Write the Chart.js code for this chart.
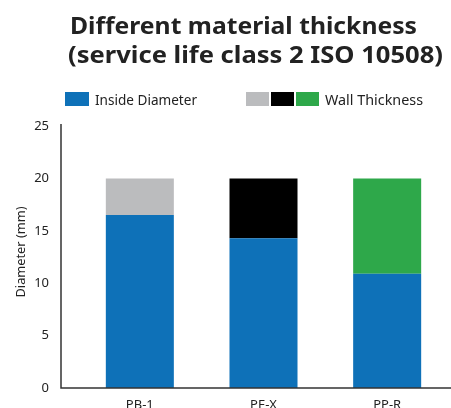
<!DOCTYPE html>
<html>
<head>
<meta charset="utf-8">
<script src="https://cdn.jsdelivr.net/npm/chart.js@4"></script>
<style>
  html, body { margin: 0; padding: 0; background: #fff; }
  #wrap { position: relative; width: 451px; height: 408px; }
</style>
</head>
<body>
<div id="wrap"><canvas id="c" width="451" height="408"></canvas></div>
<script>
const categories = ["PB-1", "PE-X", "PP-R"];
const insideDiameter = [16.5, 14.3, 10.9];
const wallThickness = [3.5, 5.7, 9.1];
const yTicks = [0, 5, 10, 15, 20, 25];
const titleLines = ["Different material thickness", "(service life class 2 ISO 10508)"];
const seriesNames = ["Inside Diameter", "Wall Thickness"];
const yAxisTitle = "Diameter (mm)";
const insideColor = "#0e71b8";
const wallColors = ["#bbbcbe", "#000000", "#2ea84a"];

const FONT = "'Noto Sans', 'DejaVu Sans', sans-serif";
const AXIS_X = 61;

function fitText(ctx, text, x, y, targetW, font) {
  ctx.font = font;
  const w = ctx.measureText(text).width;
  const s = targetW / w;
  ctx.save();
  ctx.translate(x, y);
  ctx.scale(s, 1);
  ctx.fillText(text, 0, 0);
  ctx.restore();
}

const decor = {
  id: 'decor',
  afterDraw(chart) {
    const ctx = chart.ctx;
    const ca = chart.chartArea;
    ctx.save();
    // title
    ctx.fillStyle = '#222';
    ctx.textBaseline = 'alphabetic';
    ctx.textAlign = 'left';
    fitText(ctx, titleLines[0], 70, 34, 347, "bold 23px " + FONT);
    fitText(ctx, titleLines[1], 68, 63, 375, "bold 23px " + FONT);
    // legend
    ctx.fillStyle = insideColor;
    ctx.fillRect(65, 92, 24, 14);
    wallColors.forEach((c, i) => { ctx.fillStyle = c; ctx.fillRect(246 + i * 25, 92, 23, 14); });
    ctx.fillStyle = '#222';
    fitText(ctx, seriesNames[0], 95, 104.5, 102, "14px " + FONT);
    fitText(ctx, seriesNames[1], 325, 104.5, 98, "14px " + FONT);
    // y axis title
    ctx.save();
    ctx.translate(21, 252);
    ctx.rotate(-Math.PI / 2);
    ctx.textAlign = 'left';
    ctx.textBaseline = 'middle';
    fitText(ctx, yAxisTitle, -45.5, 0, 91, "12.5px " + FONT);
    ctx.restore();
    // axis lines
    ctx.strokeStyle = '#333';
    ctx.lineWidth = 1.5;
    ctx.beginPath();
    ctx.moveTo(AXIS_X, ca.top - 2);
    ctx.lineTo(AXIS_X, ca.bottom);
    ctx.lineTo(chart.width, ca.bottom);
    ctx.stroke();
    ctx.restore();
  }
};

new Chart(document.getElementById('c'), {
  type: 'bar',
  data: {
    labels: categories,
    datasets: [
      { label: seriesNames[0], data: insideDiameter, backgroundColor: insideColor, borderWidth: 0 },
      { label: seriesNames[1], data: wallThickness, backgroundColor: wallColors, borderWidth: 0 }
    ]
  },
  options: {
    responsive: false,
    animation: false,
    devicePixelRatio: 1,
    layout: { padding: { top: 126, right: 2, left: 0, bottom: 0 } },
    plugins: { legend: { display: false }, title: { display: false }, tooltip: { enabled: false } },
    datasets: { bar: { categoryPercentage: 1, barPercentage: 0.55 } },
    scales: {
      x: {
        stacked: true,
        grid: { display: false, drawTicks: false },
        border: { display: false },
        ticks: { color: '#222', font: { family: FONT, size: 13 }, padding: 9, maxRotation: 0, minRotation: 0, autoSkip: false },
        afterFit(s) { s.height = 20; }
      },
      y: {
        stacked: true,
        min: 0, max: 25,
        afterBuildTicks(s) { s.ticks = yTicks.map(v => ({ value: v })); },
        grid: { display: false, drawTicks: false },
        border: { display: false },
        ticks: { color: '#222', font: { family: FONT, size: 13 }, padding: 29 },
        title: { display: false },
        afterFit(s) { s.width = 78; s.paddingTop = 0; s.paddingBottom = 0; }
      }
    }
  },
  plugins: [decor]
});
</script>
</body>
</html>
